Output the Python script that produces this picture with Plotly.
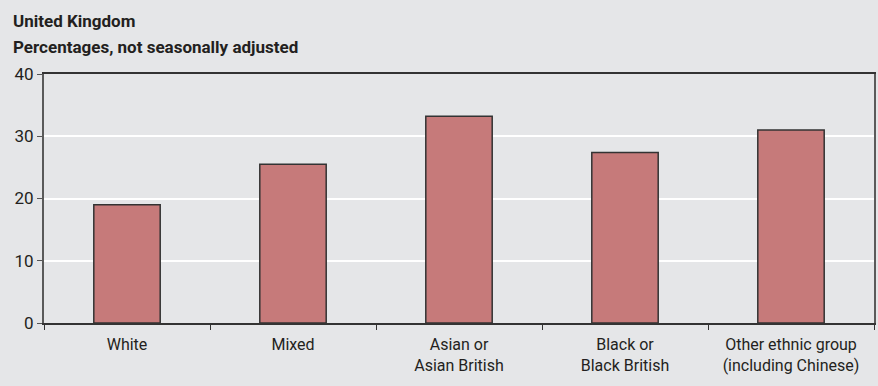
import plotly.graph_objects as go

categories = ["White", "Mixed", "Asian or<br>Asian British", "Black or<br>Black British",
              "Other ethnic group<br>(including Chinese)"]
values = [19.0, 25.5, 33.2, 27.4, 31.0]
y_ticks = [0, 10, 20, 30, 40]

FONT = "Roboto, Liberation Sans, sans-serif"
BG = "#e5e6e8"

fig = go.Figure(go.Bar(
    x=categories, y=values, width=0.4,
    marker=dict(color="#c67a7a", line=dict(color="#333333", width=1.5)),
))

fig.update_layout(
    width=878, height=386,
    margin=dict(l=44, r=2, t=74, b=63),
    paper_bgcolor=BG, plot_bgcolor=BG,
    font=dict(family=FONT, size=17, color="#231f20"),
    showlegend=False,
    bargap=0.6,
)

fig.update_xaxes(
    tickson="boundaries", ticks="outside", ticklen=5, tickcolor="#333333", tickwidth=1.2,
    showline=True, linecolor="#333333", linewidth=1.5, mirror=True,
    showgrid=False, tickfont=dict(size=16), ticklabelstandoff=6,
)
fig.update_yaxes(
    range=[0, 40], tickvals=y_ticks, ticks="outside", ticklen=5, tickcolor="#555555",
    tickwidth=1.2, showline=True, linecolor="#5a5a5a", linewidth=2, mirror=True,
    showgrid=True, gridcolor="#ffffff", gridwidth=1.5, zeroline=False,
    tickfont=dict(size=17),
)

fig.add_annotation(text="<b>United Kingdom</b>", xref="paper", yref="paper",
                   x=-0.04, y=1.213, xanchor="left", yanchor="middle", showarrow=False,
                   font=dict(size=17, family=FONT, color="#231f20"))
fig.add_annotation(text="<b>Percentages, not seasonally adjusted</b>", xref="paper", yref="paper",
                   x=-0.04, y=1.108, xanchor="left", yanchor="middle", showarrow=False,
                   font=dict(size=17, family=FONT, color="#231f20"))

fig.write_html("out.html")
